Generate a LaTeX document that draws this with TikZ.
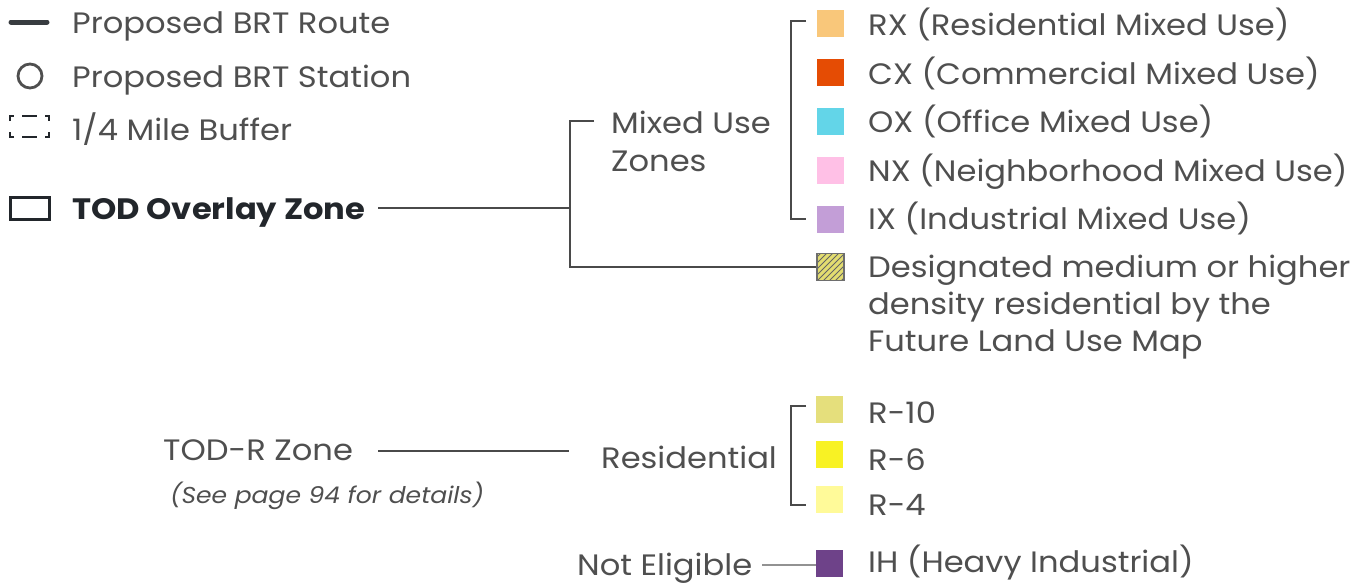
\documentclass[tikz,border=0pt]{standalone}
\usepackage{fontspec}
\setmainfont{Poppins}[FakeStretch=1.09]
\begin{document}
\begin{tikzpicture}[x=1pt,y=-1pt,
  lbl/.style={anchor=base west,inner sep=0pt,text=txtgray,font=\fontsize{29.5}{34}\selectfont},
  conn/.style={draw=lngray,line width=1.3pt},
  swatch/.style={minimum width=27pt,minimum height=27pt,inner sep=0pt,draw=none}]
\definecolor{txtgray}{HTML}{4F4F4F}
\definecolor{lngray}{HTML}{4A4A4A}
\definecolor{dark}{HTML}{22262B}
\definecolor{rx}{HTML}{F9C77A}
\definecolor{cx}{HTML}{E54C04}
\definecolor{ox}{HTML}{63D5E8}
\definecolor{nx}{HTML}{FFC0E6}
\definecolor{ix}{HTML}{C39ED7}
\definecolor{r10}{HTML}{E5DF7C}
\definecolor{r6}{HTML}{F8F224}
\definecolor{r4}{HTML}{FFFA99}
\definecolor{ih}{HTML}{6E4289}
\definecolor{hatch}{HTML}{E3DD70}
\useasboundingbox (0,0) rectangle (1362,584);
% legend symbols
\draw[line width=5pt,line cap=round,color=dark!90] (11,22) -- (47,22);
\draw[line width=2.8pt,color=txtgray] (30,76) circle (12);
\begin{scope}[line width=1.8pt,color=dark]
\draw (10,121) -- (10,116) -- (14,116);
\draw (45,116) -- (49,116) -- (49,121);
\draw (49,132) -- (49,137) -- (45,137);
\draw (14,137) -- (10,137) -- (10,132);
\draw (22,116) -- (37,116);
\draw (22,137) -- (37,137);
\end{scope}
\draw[line width=3pt,color=dark] (10,197) rectangle (49,219);
\node[lbl] (route) at (72,33) {Proposed BRT Route};
\node[lbl] (station) at (72,87) {Proposed BRT Station};
\node[lbl] (buffer) at (72,140) {1/4 Mile Buffer};
\node[lbl,text=dark,font=\fontsize{29.5}{34}\selectfont\bfseries] (tod) at (72,219) {TOD Overlay Zone};
% mixed use
\node[lbl] (mixed) at (611,133) {Mixed Use};
\node[lbl] (zones) at (611,171) {Zones};
\node[swatch,fill=rx] (srx) at (830.5,23.5) {};
\node[swatch,fill=cx] (scx) at (830.5,72.5) {};
\node[swatch,fill=ox] (sox) at (830.5,121.5) {};
\node[swatch,fill=nx] (snx) at (830.5,170.5) {};
\node[swatch,fill=ix] (six) at (830.5,219.5) {};
\node[swatch,fill=hatch,draw=lngray!80,line width=1.2pt] (shd) at (830.5,267) {};
\begin{scope}
\clip (817,253.5) rectangle (844,280.5);
\foreach \k in {-30,-24,...,30} {\draw[lngray!85,line width=0.8pt] (817+\k,281) -- (847+\k,251);}
\end{scope}
\draw[lngray!80,line width=1.2pt] (817,253.5) rectangle (844,280.5);
\node[lbl] (trx) at (868,35) {RX (Residential Mixed Use)};
\node[lbl] (tcx) at (868,84) {CX (Commercial Mixed Use)};
\node[lbl] (tox) at (868,132) {OX (Office Mixed Use)};
\node[lbl] (tnx) at (868,181) {NX (Neighborhood Mixed Use)};
\node[lbl] (tix) at (868,229) {IX (Industrial Mixed Use)};
\node[lbl] (td1) at (868,277) {Designated medium or higher};
\node[lbl] (td2) at (868,314) {density residential by the};
\node[lbl] (td3) at (868,351) {Future Land Use Map};
% connectors upper
\coordinate (j1) at (570,208);
\coordinate (j1t) at (570,121);
\coordinate (j1b) at (570,267);
\coordinate (m1) at (594,121);
\coordinate (j1s) at (378,208);
\draw[conn] (j1s) -- (j1);
\draw[conn] (m1) -- (j1t) -- (j1b) -- (shd.west);
\coordinate (b1t) at (791,21);
\coordinate (b1b) at (791,219);
\draw[conn] (806,21) -- (b1t) -- (b1b) -- (806,219);
% residential
\node[lbl] (todr) at (163,460) {TOD-R Zone};
\node[lbl,font=\fontsize{23}{27}\selectfont\itshape] (see) at (170,503) {(See page 94 for details)};
\node[lbl] (resid) at (601,468) {Residential};
\coordinate (rl1) at (378,451);
\coordinate (rl2) at (569,451);
\draw[conn] (rl1) -- (rl2);
\node[swatch,fill=r10] (sr10) at (829.5,409.5) {};
\node[swatch,fill=r6] (sr6) at (829.5,454.5) {};
\node[swatch,fill=r4] (sr4) at (829.5,499.5) {};
\node[lbl] (tr10) at (868,423) {R-10};
\node[lbl] (tr6) at (868,470) {R-6};
\node[lbl] (tr4) at (868,515) {R-4};
\coordinate (b2t) at (791,406);
\coordinate (b2b) at (791,505);
\draw[conn] (806,406) -- (b2t) -- (b2b) -- (806,505);
% not eligible
\node[lbl] (ne) at (577,575) {Not Eligible};
\node[swatch,fill=ih] (sih) at (829.5,563.5) {};
\node[lbl] (tih) at (868,572) {IH (Heavy Industrial)};
\coordinate (nel) at (762,565);
\draw[draw=lngray!60,line width=1.3pt] (nel) -- (nel -| sih.west);
\end{tikzpicture}
\end{document}
